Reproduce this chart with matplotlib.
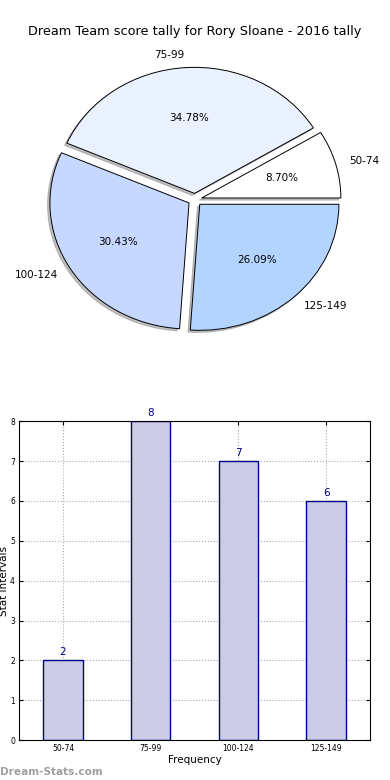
import matplotlib
matplotlib.use("Agg")
import matplotlib.pyplot as plt

categories = ["50-74", "75-99", "100-124", "125-149"]
counts = [2, 8, 7, 6]
pie_colors = ["#ffffff", "#eaf1ff", "#c6d8ff", "#b3d4ff"]
title = "Dream Team score tally for Rory Sloane - 2016 tally"

fig = plt.figure(figsize=(3.9, 7.8), dpi=100)

# Pie
axp = fig.add_axes([0.054, 0.542, 0.892, 0.404])
wedges, texts, autotexts = axp.pie(
    counts, labels=categories, colors=pie_colors, autopct="%.2f%%",
    explode=[0.05] * len(counts),
    shadow={"ox": -0.012, "oy": -0.012, "color": "#808080"},
    startangle=0,
    wedgeprops=dict(edgecolor="black", linewidth=0.7),
    textprops=dict(fontsize=7.5))
axp.set_aspect("auto")
axp.set_xlim(-1.25, 1.25)
axp.set_ylim(-1.25, 1.25)
axp.set_title(title, fontsize=9.3, pad=5)

# Bar
axb = fig.add_axes([0.049, 0.051, 0.9, 0.409])
x = list(range(len(categories)))
bars = axb.bar(x, counts, width=0.45, color="#cccce6", edgecolor="#00008b",
               linewidth=1.0, zorder=2)
for xi, c in zip(x, counts):
    axb.text(xi, c + 0.08, str(c), ha="center", va="bottom", color="#00008b",
             fontsize=7.5, clip_on=False)
axb.set_xlim(-0.5, 3.5)
axb.set_ylim(0, 8)
axb.set_xticks(x)
axb.set_xticklabels(categories)
axb.set_yticks(range(0, 9))
axb.tick_params(direction="in", top=True, right=True, labelsize=5.5, length=3, pad=3)
axb.grid(True, linestyle=":", color="#aaaaaa", linewidth=0.8, zorder=0)
axb.set_axisbelow(True)
axb.set_xlabel("Frequency", fontsize=7.5, labelpad=1)
axb.set_ylabel("Stat Intervals", fontsize=7.5, labelpad=1)
for s in axb.spines.values():
    s.set_linewidth(0.8)

fig.text(0.0, 0.004, "Dream-Stats.com", color="#a0a0a0", fontsize=7.6,
         fontweight="bold", ha="left", va="bottom")

fig.savefig("out.png", dpi=100, facecolor="white")
